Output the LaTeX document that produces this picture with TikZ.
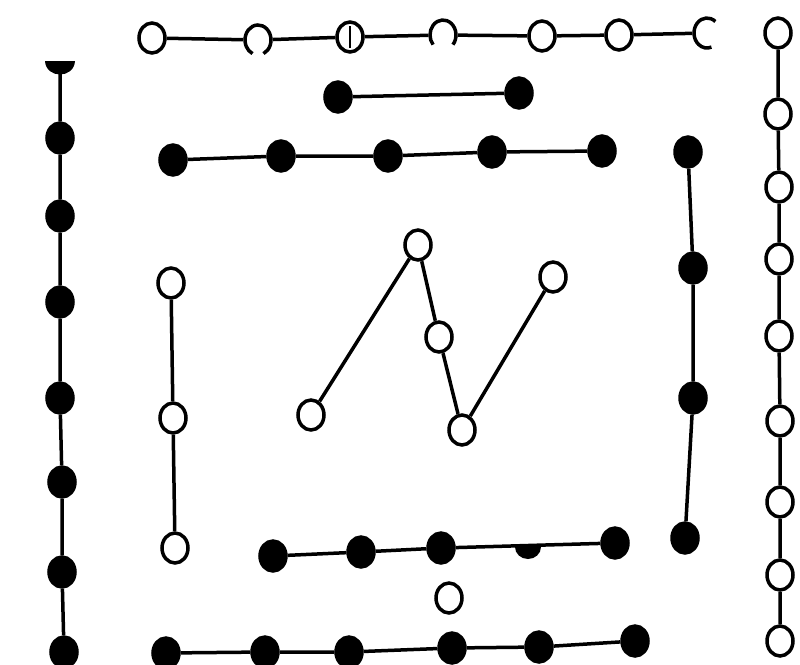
\documentclass[tikz,border=0pt]{standalone}
\usetikzlibrary{shapes.geometric}
\begin{document}
\begin{tikzpicture}[x=1pt,y=-1pt,
  dot/.style={ellipse,minimum width=26pt,minimum height=30pt,inner sep=0pt,line width=3.5pt},
  wh/.style={dot,draw=black,fill=white},
  bk/.style={dot,draw=black,fill=black},
  gapdot/.style={dot},
  link/.style={line width=3.5pt},
  arcline/.style={line width=3.5pt}]
\useasboundingbox (0,0) rectangle (800,664);
\fill[white] (0,0) rectangle (800,664);
% top row (outer, open)
\node[wh] (t1) at (152,38) {};
\node[gapdot] (t2) at (258,40) {};
\node[wh] (t3) at (350,37) {};
\node[gapdot] (t4) at (443,35) {};
\node[wh] (t5) at (542,36) {};
\node[wh] (t6) at (619,35) {};
\node[gapdot] (t7) at (707,33) {};
\draw[link] (t1) -- (t2) -- (t3) -- (t4) -- (t5) -- (t6) -- (t7);
\draw[arcline] (t2.center) ++(-65:13pt and 15pt) arc[start angle=-65,end angle=245,x radius=13pt,y radius=15pt];
\draw[arcline] (t4.center) ++(-40:13pt and 15pt) arc[start angle=-40,end angle=220,x radius=13pt,y radius=15pt];
\draw[arcline] (t7.center) ++(50:13pt and 15pt) arc[start angle=50,end angle=290,x radius=13pt,y radius=15pt];
\draw[line width=1.5pt] ([yshift=11pt]t3.center) -- ([yshift=-11pt]t3.center);
% right column (outer, open)
\node[wh] (r1) at (778,33) {};
\node[wh] (r2) at (778,114) {};
\node[wh] (r3) at (779,187) {};
\node[wh] (r4) at (779,259) {};
\node[wh] (r5) at (779,336) {};
\node[wh] (r6) at (780,421) {};
\node[wh] (r7) at (780,502) {};
\node[wh] (r8) at (780,575) {};
\node[wh] (r9) at (780,641) {};
\draw[link] (r1) -- (r2) -- (r3) -- (r4) -- (r5) -- (r6) -- (r7) -- (r8) -- (r9);
% left column (outer, filled)
\fill (45,61) .. controls (46,79) and (74,79) .. (75,61) -- cycle;
\coordinate (l0) at (60,70);
\coordinate (lend) at (63,664);
\node[bk] (l1) at (60,138) {};
\node[bk] (l2) at (60,216) {};
\node[bk] (l3) at (60,302) {};
\node[bk] (l4) at (60,398) {};
\node[bk] (l5) at (62,482) {};
\node[bk] (l6) at (62,572) {};
\node[bk] (l7) at (64,652) {};
\draw[link] (l0) -- (l1) -- (l2) -- (l3) -- (l4) -- (l5) -- (l6) -- (l7) -- (lend);
% inner top (two filled)
\node[bk] (a1) at (338,97) {};
\node[bk] (a2) at (519,93) {};
\draw[link] (a1) -- (a2);
% row of five filled
\node[bk] (b1) at (173,160) {};
\node[bk] (b2) at (281,156) {};
\node[bk] (b3) at (388,156) {};
\node[bk] (b4) at (492,152) {};
\node[bk] (b5) at (602,151) {};
\draw[link] (b1) -- (b2) -- (b3) -- (b4) -- (b5);
% right inner (filled)
\node[bk] (c1) at (688,152) {};
\node[bk] (c2) at (693,268) {};
\node[bk] (c3) at (693,398) {};
\node[bk] (c4) at (685,538) {};
\draw[link] (c1) -- (c2) -- (c3) -- (c4);
% left inner (open)
\node[wh] (d1) at (171,283) {};
\node[wh] (d2) at (173,418) {};
\node[wh] (d3) at (175,548) {};
\draw[link] (d1) -- (d2) -- (d3);
% bottom inner row (filled)
\node[bk] (e1) at (273,556) {};
\node[bk] (e2) at (361,552) {};
\node[bk] (e3) at (441,548) {};
\coordinate (e4) at (528,547);
\node[bk] (e5) at (615,543) {};
\draw[link] (e1) -- (e2) -- (e3) -- (e5);
\fill (e4) ++(-13pt,0pt) arc[start angle=180,end angle=360,x radius=13pt,y radius=12pt] -- cycle;
% single open
\node[wh] (s) at (449,598) {};
% bottom outer row (filled)
\node[bk] (f1) at (166,653) {};
\node[bk] (f2) at (265,652) {};
\node[bk] (f3) at (349,652) {};
\node[bk] (f4) at (452,648) {};
\node[bk] (f5) at (539,647) {};
\node[bk] (f6) at (635,641) {};
\draw[link] (f1) -- (f2) -- (f3) -- (f4) -- (f5) -- (f6);
% center (open)
\node[wh] (m1) at (311,415) {};
\node[wh] (m2) at (418,245) {};
\node[wh] (m3) at (439,337) {};
\node[wh] (m4) at (462,430) {};
\node[wh] (m5) at (553,277) {};
\draw[link] (m1) -- (m2) -- (m3) -- (m4) -- (m5);
\end{tikzpicture}
\end{document}
